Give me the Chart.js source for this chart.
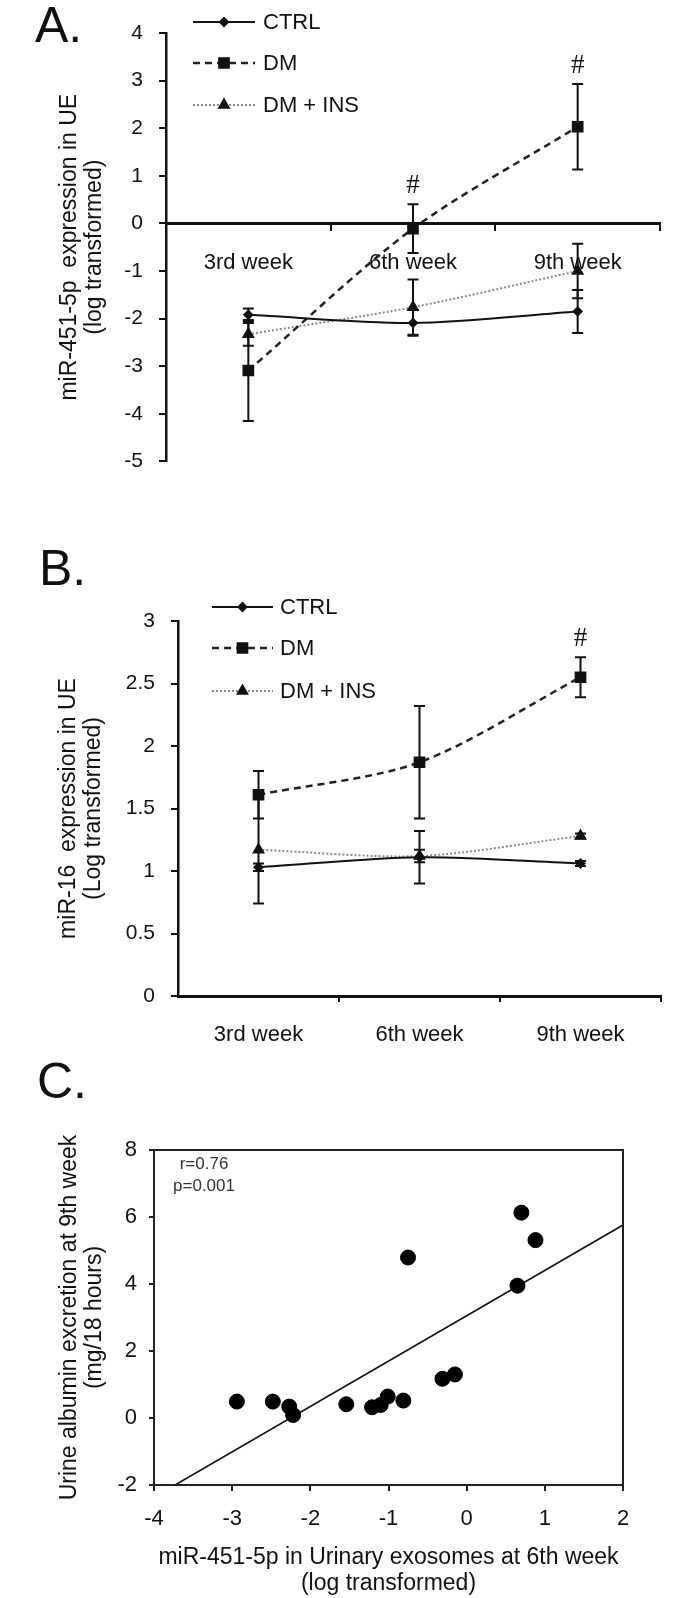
<!DOCTYPE html>
<html><head><meta charset="utf-8">
<script src="https://cdn.jsdelivr.net/npm/chart.js@4.4.1/dist/chart.umd.min.js"></script>
<style>
html,body{margin:0;padding:0;background:#fff;}
body{width:676px;height:1598px;position:relative;overflow:hidden;font-family:"Liberation Sans",Arial,sans-serif;}
.box{position:absolute;left:0;width:676px;}
.tag{position:absolute;font-size:50px;line-height:1;color:#111;font-family:"Liberation Sans",Arial,sans-serif;}
</style></head><body>
<div class="tag" style="left:35px;top:0px;">A.</div>
<div class="tag" style="left:39px;top:543px;">B.</div>
<div class="tag" style="left:37px;top:1056px;">C.</div>
<div class="box" style="top:0;height:490px;"><canvas id="ca" width="676" height="490"></canvas></div>
<div class="box" style="top:540px;height:520px;"><canvas id="cb" width="676" height="520"></canvas></div>
<div class="box" style="top:1060px;height:538px;"><canvas id="cc" width="676" height="538"></canvas></div>
<script>
// ---------- data ----------
const weeks = ['3rd week', '6th week', '9th week'];
const seriesNames = ['CTRL', 'DM', 'DM + INS'];

// Panel A: miR-451-5p
const aCtrl = [-1.92, -2.09, -1.85];
const aCtrlErr = [0.13, 0.27, 0.45];
const aDm = [-3.09, -0.11, 2.03];
const aDmErr = [1.06, 0.51, 0.90];
const aIns = [-2.33, -1.76, -1.00];
const aInsErr = [0.24, 0.58, 0.57];
const aDmSig = ['', '#', '#'];

// Panel B: miR-16
const bCtrl = [1.03, 1.11, 1.06];
const bCtrlErr = [0.03, 0.21, 0.02];
const bDm = [1.61, 1.87, 2.55];
const bDmErr = [0.19, 0.45, 0.16];
const bIns = [1.17, 1.12, 1.28];
const bInsErr = [0.43, 0.05, 0.02];
const bDmSig = ['', '', '#'];

// Panel C: correlation
const cX = [-2.94, -2.48, -2.27, -2.22, -1.54, -1.21, -1.10, -1.01, -0.81, -0.75, -0.31, -0.15, 0.65, 0.70, 0.88];
const cY = [0.49, 0.49, 0.34, 0.09, 0.41, 0.32, 0.39, 0.64, 0.52, 4.79, 1.17, 1.30, 3.95, 6.13, 5.31];
const fitX = [-3.73, 2.0];
const fitY = [-2.0, 5.76];
const cStats = ['r=0.76', 'p=0.001'];

const FONT = '"Liberation Sans", Arial, sans-serif';
const INK = '#111';

// ---------- plugins ----------
const errorBars = {
  id: 'errorBars',
  afterDatasetsDraw(chart) {
    const ctx = chart.ctx, ys = chart.scales.y;
    chart.data.datasets.forEach((ds, di) => {
      if (!ds.errors) return;
      const meta = chart.getDatasetMeta(di);
      meta.data.forEach((pt, i) => {
        const v = ds.data[i], e = ds.errors[i];
        const yt = ys.getPixelForValue(v + e), yb = ys.getPixelForValue(v - e);
        const cap = 5.5;
        ctx.save();
        ctx.strokeStyle = INK; ctx.lineWidth = 2; ctx.setLineDash([]);
        ctx.beginPath();
        ctx.moveTo(pt.x, yt); ctx.lineTo(pt.x, yb);
        ctx.moveTo(pt.x - cap, yt); ctx.lineTo(pt.x + cap, yt);
        ctx.moveTo(pt.x - cap, yb); ctx.lineTo(pt.x + cap, yb);
        ctx.stroke();
        if (ds.sig && ds.sig[i]) {
          ctx.font = '27px "Liberation Serif", serif';
          ctx.fillStyle = INK; ctx.textAlign = 'center'; ctx.textBaseline = 'middle';
          ctx.fillText(ds.sig[i], pt.x, yt - 18);
        }
        ctx.restore();
      });
    });
  }
};

const lineLegend = {
  id: 'lineLegend',
  afterDraw(chart, args, opts) {
    if (!opts || !opts.rows) return;
    const ctx = chart.ctx, L = chart.chartArea.left;
    chart.data.datasets.forEach((ds, i) => {
      const y = opts.rows[i];
      const x0 = L + opts.lineStart, x1 = L + opts.lineEnd;
      ctx.save();
      ctx.strokeStyle = ds.borderColor; ctx.lineWidth = ds.borderWidth;
      ctx.setLineDash(ds.borderDash || []);
      ctx.beginPath(); ctx.moveTo(x0, y); ctx.lineTo(x1, y); ctx.stroke();
      ctx.setLineDash([]);
      ctx.fillStyle = INK; ctx.strokeStyle = INK;
      Chart.helpers.drawPoint(ctx, {pointStyle: ds.pointStyle, radius: ds.pointRadius, borderWidth: 1, rotation: 0}, (x0 + x1) / 2, y);
      ctx.font = '22px ' + FONT; ctx.fillStyle = INK;
      ctx.textAlign = 'left'; ctx.textBaseline = 'middle';
      ctx.fillText(ds.label, L + opts.textStart, y + 1);
      ctx.restore();
    });
  }
};

const boxFrame = {
  id: 'boxFrame',
  afterDraw(chart, args, opts) {
    if (!opts || !opts.on) return;
    const {left, right, top, bottom} = chart.chartArea;
    const ctx = chart.ctx;
    ctx.save(); ctx.strokeStyle = '#222'; ctx.lineWidth = 2;
    ctx.strokeRect(left, top, right - left, bottom - top);
    if (opts.stats) {
      ctx.font = '17px ' + FONT; ctx.fillStyle = '#333';
      ctx.textAlign = 'center'; ctx.textBaseline = 'middle';
      opts.stats.forEach((s, i) => ctx.fillText(s, left + 50, top + 14 + i * 22));
    }
    ctx.restore();
  }
};

Chart.register(errorBars, lineLegend, boxFrame);

function lineDatasets(ctrl, ctrlErr, dm, dmErr, dmSig, ins, insErr) {
  return [
    {label: seriesNames[0], data: ctrl, errors: ctrlErr, borderColor: INK, borderWidth: 2,
     pointStyle: 'rectRot', pointRadius: 4, pointBackgroundColor: INK, pointBorderColor: INK, tension: 0.3},
    {label: seriesNames[1], data: dm, errors: dmErr, sig: dmSig, borderColor: '#222', borderWidth: 2.5, borderDash: [7, 5],
     pointStyle: 'rect', pointRadius: 6.5, pointBackgroundColor: INK, pointBorderColor: INK, tension: 0.3},
    {label: seriesNames[2], data: ins, errors: insErr, borderColor: '#8a8a8a', borderWidth: 2, borderDash: [2, 2],
     pointStyle: 'triangle', pointRadius: 5.5, pointBackgroundColor: INK, pointBorderColor: INK, tension: 0.3}
  ];
}

function yTitle(lines, padTop) {
  return {display: true, text: lines, color: INK, font: {family: FONT, size: 23, lineHeight: 1.05}, padding: {top: padTop, bottom: 0}};
}

// tick marks only between categories (not at both ends)
const innerTickColor = c => (c.index === 0 || c.index === weeks.length) ? 'rgba(0,0,0,0)' : INK;
const plainNum = v => String(Number(v));

const base = {responsive: false, animation: false, events: []};

// ---------- Panel A ----------
new Chart(document.getElementById('ca'), {
  type: 'line',
  data: {labels: weeks, datasets: lineDatasets(aCtrl, aCtrlErr, aDm, aDmErr, aDmSig, aIns, aInsErr)},
  options: Object.assign({}, base, {
    layout: {padding: {top: 33, bottom: 17, right: 16, left: 0}},
    plugins: {legend: {display: false}, tooltip: {enabled: false},
      lineLegend: {rows: [22, 63, 105], lineStart: 27, lineEnd: 89, textStart: 97}},
    scales: {
      x: {type: 'category', position: {y: 0}, offset: true,
        grid: {offset: true, drawOnChartArea: false, drawTicks: true, tickLength: 6, color: innerTickColor, lineWidth: 2},
        border: {display: true, color: INK, width: 3},
        ticks: {color: INK, font: {family: FONT, size: 22}, padding: 20, maxRotation: 0, autoSkip: false}},
      y: {min: -5, max: 4, afterFit: s => { s.width = 166; },
        ticks: {stepSize: 1, color: INK, font: {family: FONT, size: 21}, padding: 16, callback: plainNum},
        grid: {drawOnChartArea: false, drawTicks: true, tickLength: 7, color: INK, lineWidth: 2},
        border: {display: true, color: INK, width: 2.5},
        title: yTitle(['miR-451-5p  expression in UE', '(log transformed)'], 58)}
    }
  })
});

// ---------- Panel B ----------
new Chart(document.getElementById('cb'), {
  type: 'line',
  data: {labels: weeks, datasets: lineDatasets(bCtrl, bCtrlErr, bDm, bDmErr, bDmSig, bIns, bInsErr)},
  options: Object.assign({}, base, {
    layout: {padding: {top: 81, bottom: 0, right: 15, left: 0}},
    plugins: {legend: {display: false}, tooltip: {enabled: false},
      lineLegend: {rows: [67, 108, 151], lineStart: 34, lineEnd: 95, textStart: 102}},
    scales: {
      x: {type: 'category', position: 'bottom', offset: true, afterFit: s => { s.height = 64; },
        grid: {offset: true, drawOnChartArea: false, drawTicks: true, tickLength: 6, color: innerTickColor, lineWidth: 2},
        border: {display: true, color: INK, width: 3},
        ticks: {color: INK, font: {family: FONT, size: 22}, padding: 20, maxRotation: 0, autoSkip: false}},
      y: {min: 0, max: 3, afterFit: s => { s.width = 178; },
        ticks: {stepSize: 0.5, color: INK, font: {family: FONT, size: 21}, padding: 16, callback: plainNum},
        grid: {drawOnChartArea: false, drawTicks: true, tickLength: 7, color: INK, lineWidth: 2},
        border: {display: true, color: INK, width: 2.5},
        title: yTitle(['miR-16  expression in UE', '(Log transformed)'], 57)}
    }
  })
});

// ---------- Panel C ----------
const cPoints = cX.map((x, i) => ({x: x, y: cY[i]}));
const fitPoints = fitX.map((x, i) => ({x: x, y: fitY[i]}));
new Chart(document.getElementById('cc'), {
  type: 'scatter',
  data: {datasets: [
    {label: 'samples', data: cPoints, pointRadius: 7.5, pointBackgroundColor: '#000', pointBorderColor: '#000', showLine: false},
    {label: 'fit', type: 'line', data: fitPoints, borderColor: '#111', borderWidth: 1.6, pointRadius: 0, tension: 0}
  ]},
  options: Object.assign({}, base, {
    layout: {padding: {top: 90, bottom: 0, right: 53, left: 0}},
    plugins: {legend: {display: false}, tooltip: {enabled: false}, boxFrame: {on: true, stats: cStats}},
    scales: {
      x: {type: 'linear', min: -4, max: 2, afterFit: s => { s.height = 113; },
        ticks: {stepSize: 1, color: INK, font: {family: FONT, size: 22}, padding: 15, callback: plainNum},
        grid: {drawOnChartArea: false, drawTicks: true, tickLength: 6, color: '#222', lineWidth: 2},
        border: {display: true, color: '#222', width: 2},
        title: {display: true, text: ['miR-451-5p in Urinary exosomes at 6th week', '(log transformed)'], color: INK,
          font: {family: FONT, size: 23, lineHeight: 1.1}, padding: {top: 0, bottom: 2}}},
      y: {type: 'linear', min: -2, max: 8, afterFit: s => { s.width = 154; },
        ticks: {stepSize: 2, color: INK, font: {family: FONT, size: 22}, padding: 12, callback: plainNum},
        grid: {drawOnChartArea: false, drawTicks: true, tickLength: 5, color: '#222', lineWidth: 2},
        border: {display: true, color: '#222', width: 2},
        title: {display: true, text: ['Urine albumin excretion at 9th week', '(mg/18 hours)'], color: INK,
          font: {family: FONT, size: 23, lineHeight: 1.1}, padding: {top: 57, bottom: 0}}}
    }
  })
});
</script>
</body></html>
